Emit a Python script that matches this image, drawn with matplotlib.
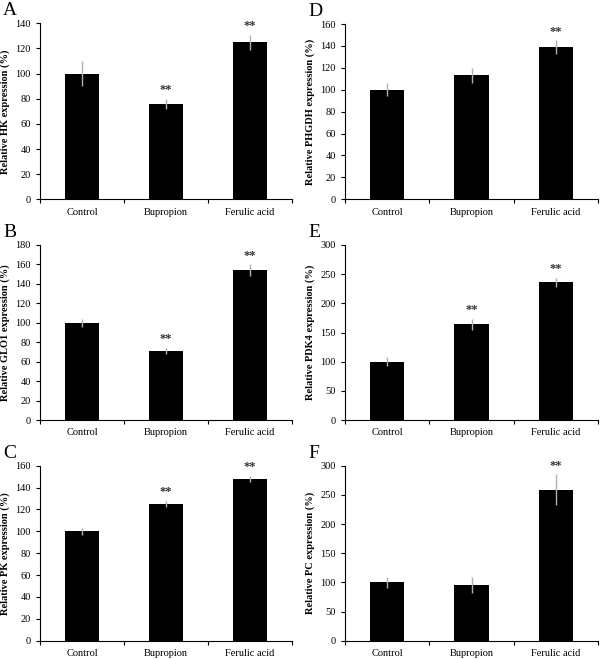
import numpy as np
import matplotlib
matplotlib.use("Agg")
import matplotlib.pyplot as plt

plt.rcParams['font.family'] = ['Liberation Serif', 'DejaVu Serif']

groups = ["Control", "Bupropion", "Ferulic acid"]

hk = [100, 76, 125]
hk_err = [10, 4, 6]
glo1 = [100, 71, 154]
glo1_err = [4, 3, 6]
pk = [100, 125, 148]
pk_err = [3, 3, 3]
phgdh = [100, 113, 139]
phgdh_err = [6, 7, 6]
pdk4 = [100, 164, 236]
pdk4_err = [8, 10, 8]
pc = [100, 96, 259]
pc_err = [10, 14, 26]

# significance marks per bar
hk_sig = ["", "**", "**"]
glo1_sig = ["", "**", "**"]
pk_sig = ["", "**", "**"]
phgdh_sig = ["", "", "**"]
pdk4_sig = ["", "**", "**"]
pc_sig = ["", "", "**"]

panels = [
    ("A", "HK", hk, hk_err, hk_sig, 140, 20, [40, 23.3, 292, 199.3]),
    ("B", "GLO1", glo1, glo1_err, glo1_sig, 180, 20, [40, 245, 292, 420]),
    ("C", "PK", pk, pk_err, pk_sig, 160, 20, [40, 465.7, 292, 640.7]),
    ("D", "PHGDH", phgdh, phgdh_err, phgdh_sig, 160, 20, [345, 24, 598, 199.3]),
    ("E", "PDK4", pdk4, pdk4_err, pdk4_sig, 300, 50, [345, 245, 598, 420]),
    ("F", "PC", pc, pc_err, pc_sig, 300, 50, [345, 465.7, 598, 640.7]),
]

W, H = 600, 659
fig = plt.figure(figsize=(W / 100, H / 100), dpi=100)

for letter, gene, vals, errs, sigs, ymax, step, (x0, y0, x1, y1) in panels:
    ax = fig.add_axes([x0 / W, 1 - y1 / H, (x1 - x0) / W, (y1 - y0) / H])
    x = np.arange(len(groups))
    ax.bar(x, vals, width=0.41, color="black", zorder=2)
    ax.errorbar(x, vals, yerr=errs, fmt="none", ecolor="#b0b0b0",
                elinewidth=1, capsize=0, zorder=3)
    for xi, v, e, s in zip(x, vals, errs, sigs):
        if s:
            ax.text(xi, v + e + ymax * 0.015, s, ha="center", va="bottom",
                    fontsize=9, fontweight="bold", color="#333333")
    ax.set_xlim(-0.5, 2.5)
    ax.set_ylim(0, ymax)
    ax.set_yticks(np.arange(0, ymax + 1, step))
    ax.set_xticks(x)
    ax.set_xticklabels(groups, fontsize=7.5)
    ax.set_xticks([-0.5, 0.5, 1.5, 2.5], minor=True)
    ax.tick_params(axis="x", which="major", length=0, pad=6)
    ax.tick_params(axis="x", which="minor", length=3, width=0.8, direction="out")
    ax.tick_params(axis="y", labelsize=7.5, length=3, width=0.8, direction="out")
    for side in ("top", "right"):
        ax.spines[side].set_visible(False)
    for side in ("left", "bottom"):
        ax.spines[side].set_linewidth(0.8)
    ax.set_ylabel("Relative %s expression (%%)" % gene, fontsize=7.5,
                  fontweight="bold", labelpad=4)
    fig.text((x0 - 37) / W, 1 - (y0 - 21) / H, letter, fontsize=14,
             ha="left", va="top")

fig.savefig("out.png", dpi=100)
